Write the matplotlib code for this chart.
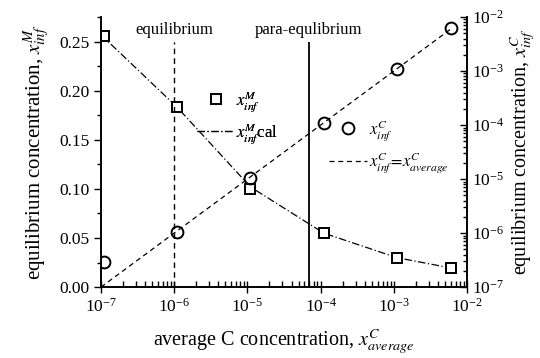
import matplotlib
matplotlib.use("Agg")
import matplotlib.pyplot as plt
from matplotlib.lines import Line2D

plt.rcParams['font.family'] = ['Liberation Serif', 'DejaVu Serif']
plt.rcParams['mathtext.fontset'] = 'stix'
plt.rcParams['axes.unicode_minus'] = False

# x_inf^M (left axis), squares
xm = [1.1e-7, 1.1e-6, 1.1e-5, 1.1e-4, 1.1e-3, 6.0e-3]
ym = [0.256, 0.183, 0.100, 0.055, 0.030, 0.0195]
# x_inf^C (right axis), circles
xc = [1.1e-7, 1.1e-6, 1.1e-5, 1.1e-4, 1.1e-3, 6.0e-3]
yc = [2.9e-7, 1.05e-6, 1.05e-5, 1.1e-4, 1.1e-3, 6.3e-3]
# x_inf^M cal curve
xcal = [1.0e-7, 1.1e-7, 1.1e-6, 1.1e-5, 1.1e-4, 1.1e-3, 6.0e-3]
ycal = [0.257, 0.254, 0.183, 0.102, 0.055, 0.030, 0.0195]
# x_inf^C = x_average line
xdiag = [1.0e-7, 6.3e-3]

x_eq = 1.0e-6
x_para = 6.9e-5

fig = plt.figure(figsize=(5.4, 3.58), dpi=100)
ax = fig.add_axes([0.187, 0.198, 0.678, 0.7545])
ax2 = ax.twinx()

dashdot = (0, (6, 2, 1, 2))
dashed = (0, (4, 3))

ax.plot(xcal, ycal, color='black', lw=0.9, ls=dashdot)
ax.plot(xm, ym, ls='none', marker='s', ms=7.5, mfc='white', mec='black', mew=1.4)
ax2.plot(xdiag, xdiag, color='black', lw=0.9, ls=dashed)
ax2.plot(xc, yc, ls='none', marker='o', ms=8.5, mfc='none', mec='black', mew=1.4)

ax.vlines(x_eq, 0, 0.25, colors='black', lw=1.0, linestyles=dashed)
ax.vlines(x_para, 0, 0.25, colors='black', lw=1.3)
ax.text(x_eq, 0.262, 'equilibrium', ha='center', va='center', fontsize=12)
ax.text(x_para, 0.262, 'para-equlibrium', ha='center', va='center', fontsize=12)

ax.set_xscale('log')
ax.set_xlim(1e-7, 1e-2)
ax.set_ylim(0, 0.275)
ax.set_yticks([0, 0.05, 0.10, 0.15, 0.20, 0.25])
ax.set_yticklabels(['0.00', '0.05', '0.10', '0.15', '0.20', '0.25'])
ax.set_yticks([0.025, 0.075, 0.125, 0.175, 0.225, 0.275], minor=True)
ax2.set_yscale('log')
ax2.set_ylim(1e-7, 1e-2)

for a in (ax, ax2):
    a.spines['top'].set_visible(False)
    for s in a.spines.values():
        s.set_linewidth(1.2)

ax.tick_params(axis='y', which='major', direction='out', length=5, width=1, labelsize=12.5)
ax.tick_params(axis='y', which='minor', direction='out', length=3, width=1)
ax.tick_params(axis='x', which='major', direction='inout', length=8, width=1, labelsize=12.5, pad=4)
ax.tick_params(axis='x', which='minor', direction='in', length=4, width=1)
ax2.tick_params(axis='y', which='major', direction='in', length=5, width=1, labelsize=12.5)
ax2.tick_params(axis='y', which='minor', direction='in', length=3, width=1)

ax.set_xlabel(r'average C concentration, $x_{average}^{C}$', fontsize=14.5, labelpad=8)
ax.set_ylabel(r'equilibrium concentration, $x_{inf}^{M}$', fontsize=15, labelpad=5)
ax2.set_ylabel(r'equilibrium concentration, $x_{inf}^{C}$', fontsize=14.5, rotation=90, labelpad=3)

h1 = [Line2D([], [], ls='none', marker='s', ms=7.5, mfc='white', mec='black', mew=1.4),
      Line2D([], [], color='black', lw=0.9, ls=dashdot)]
leg1 = ax.legend(h1, [r'$x_{inf}^{M}$', r'$x_{inf}^{M}$cal'], loc='upper left',
                 bbox_to_anchor=(0.222, 0.79), frameon=False, fontsize=12,
                 handlelength=2.2, handletextpad=0.15, labelspacing=0.45)
ax.add_artist(leg1)
h2 = [Line2D([], [], ls='none', marker='o', ms=8.5, mfc='none', mec='black', mew=1.4),
      Line2D([], [], color='black', lw=0.9, ls=dashed)]
ax2.legend(h2, [r'$x_{inf}^{C}$', r'$x_{inf}^{C}\!=\!x_{average}^{C}$'], loc='upper left',
           bbox_to_anchor=(0.582, 0.681), frameon=False, fontsize=12,
           handlelength=2.3, handletextpad=0.1, labelspacing=0.45)

fig.savefig('out.png', dpi=100)
